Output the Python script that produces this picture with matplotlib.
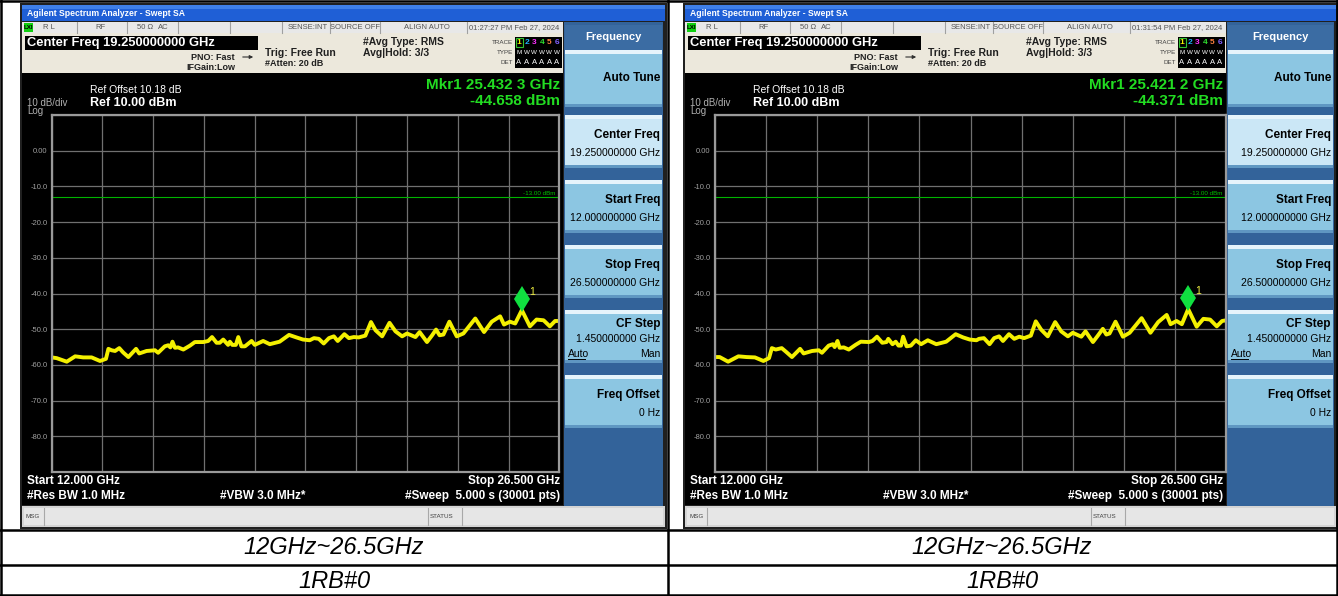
import matplotlib
matplotlib.use('Agg')
import matplotlib.pyplot as plt
import matplotlib.patches as patches
import matplotlib.transforms as mtransforms
import numpy as np

plt.rcParams['font.family'] = ['Liberation Sans Narrow', 'Liberation Sans', 'DejaVu Sans']

W, H = 1338, 596

# sweep settings
start_ghz = 12.0
stop_ghz = 26.5
ref_dbm = 10.0
bottom_dbm = -90.0
limit_dbm = -13.0
y_tick_values = [-90, -80, -70, -60, -50, -40, -30, -20, -10, 0, 10]
y_tick_labels = ['', '-80.0', '-70.0', '-60.0', '-50.0', '-40.0', '-30.0', '-20.0', '-10.0', '0.00', '']
captions = ['12GHz~26.5GHz', '1RB#0']

# left screen trace (GHz, dBm)
left_freq = [12.00, 12.14, 12.43, 12.67, 12.90, 13.14, 13.38, 13.55, 13.62, 13.71,
             13.81, 13.93, 14.04, 14.19, 14.41, 14.50, 14.71, 14.95, 15.04, 15.23,
             15.33, 15.39, 15.45, 15.52, 15.61, 15.76, 15.95, 16.09, 16.33, 16.47,
             16.58, 16.71, 16.80, 16.90, 17.04, 17.09, 17.16, 17.26, 17.33, 17.42,
             17.52, 17.71, 17.80, 18.04, 18.23, 18.51, 18.78, 18.99, 19.18, 19.37,
             19.49, 19.63, 19.77, 19.92, 20.06, 20.17, 20.36, 20.49, 20.63, 20.77,
             20.96, 21.12, 21.25, 21.44, 21.65, 21.82, 22.01, 22.15, 22.39, 22.51,
             22.72, 22.86, 22.98, 23.08, 23.19, 23.36, 23.57, 23.76, 24.10, 24.35,
             24.57, 24.81, 24.92, 25.09, 25.24, 25.43, 25.66, 25.85, 26.05, 26.23,
             26.38, 26.50]
left_dbm = [-57.9, -58.1, -59.1, -57.6, -57.9, -57.9, -58.9, -58.3, -55.5, -55.9,
            -56.1, -55.3, -56.5, -57.8, -55.5, -56.8, -56.1, -55.9, -56.6, -54.8,
            -54.5, -55.1, -53.5, -55.2, -55.1, -55.7, -54.6, -53.6, -53.6, -53.3,
            -52.2, -53.8, -53.8, -52.9, -54.4, -53.5, -54.4, -54.4, -52.2, -54.8,
            -54.8, -53.3, -54.4, -53.3, -54.2, -53.5, -51.6, -52.3, -52.9, -53.1,
            -52.5, -52.7, -54.0, -52.5, -52.0, -53.3, -51.4, -52.5, -52.2, -52.3,
            -51.8, -48.0, -50.3, -52.0, -48.2, -50.6, -52.0, -51.2, -52.2, -50.8,
            -53.6, -51.8, -50.1, -51.7, -51.5, -47.9, -52.0, -51.2, -47.0, -50.8,
            -47.9, -46.4, -48.7, -47.9, -48.4, -44.66, -49.2, -47.3, -47.5, -49.2,
            -47.7, -47.7]

# right screen trace
right_freq = [12.00, 12.14, 12.38, 12.67, 12.90, 13.14, 13.38, 13.54, 13.62, 13.73,
              13.90, 14.03, 14.19, 14.42, 14.52, 14.76, 14.95, 15.04, 15.23, 15.35,
              15.40, 15.48, 15.54, 15.66, 15.80, 15.99, 16.14, 16.37, 16.47, 16.60,
              16.75, 16.87, 16.92, 17.04, 17.13, 17.21, 17.28, 17.34, 17.44, 17.56,
              17.70, 17.85, 18.04, 18.28, 18.56, 18.83, 19.04, 19.23, 19.42,
              19.49, 19.63, 19.79, 19.92, 20.06, 20.17, 20.34, 20.49, 20.63, 20.77,
              20.96, 21.10, 21.25, 21.44, 21.65, 21.82, 22.01, 22.15, 22.39, 22.51,
              22.72, 22.86, 23.00, 23.10, 23.19, 23.36, 23.57, 23.76, 24.10, 24.35,
              24.57, 24.81, 24.92, 25.09, 25.24, 25.42, 25.66, 25.85, 26.04, 26.23,
              26.38, 26.50]
right_dbm = [-57.8, -57.8, -59.1, -57.6, -57.8, -57.9, -58.9, -58.1, -55.3, -55.7,
             -55.3, -56.4, -57.8, -55.5, -56.8, -56.1, -55.9, -56.6, -54.6, -54.2,
             -55.0, -53.3, -55.2, -55.1, -55.7, -54.4, -53.5, -53.6, -53.3, -52.1,
             -53.8, -53.6, -52.7, -54.2, -53.5, -54.6, -54.6, -52.1, -54.8, -54.6,
             -53.1, -54.2, -53.1, -54.2, -53.5, -51.4, -52.3, -52.9, -53.1,
             -52.7, -52.5, -54.2, -52.5, -52.0, -53.3, -51.4, -52.7, -52.1, -52.5,
             -51.8, -47.8, -50.1, -52.0, -48.0, -50.6, -52.0, -51.0, -52.1, -50.6,
             -53.6, -51.8, -49.9, -51.5, -51.2, -47.9, -52.1, -51.0, -46.9, -51.0,
             -48.0, -46.0, -48.6, -47.7, -48.6, -44.37, -49.3, -47.1, -47.3, -49.2,
             -47.7, -47.5]

left_marker = (25.4323, -44.658)
right_marker = (25.4212, -44.371)
left_texts = {'stamp': '01:27:27 PM Feb 27, 2024', 'mkr': 'Mkr1 25.432 3 GHz', 'mkr_db': '-44.658 dBm'}
right_texts = {'stamp': '01:31:54 PM Feb 27, 2024', 'mkr': 'Mkr1 25.421 2 GHz', 'mkr_db': '-44.371 dBm'}

softkeys = [('Center Freq', '19.250000000 GHz'), ('Start Freq', '12.000000000 GHz'),
            ('Stop Freq', '26.500000000 GHz'), ('CF Step', '1.450000000 GHz'),
            ('Freq Offset', '0 Hz')]

fig = plt.figure(figsize=(W / 100, H / 100), dpi=100)
cv = fig.add_axes([0, 0, 1, 1])
cv.set_xlim(0, W)
cv.set_ylim(H, 0)
cv.axis('off')


def box(x, y, w, h, fc, ec='none', lw=0, z=1):
    cv.add_patch(patches.Rectangle((x, y), w, h, facecolor=fc, edgecolor=ec, linewidth=lw, zorder=z))


def txt(x, y, s, size=7, color='black', weight='normal', ha='left', va='center', **kw):
    cv.text(x, y, s, fontsize=size, color=color, fontweight=weight, ha=ha, va=va, zorder=5, **kw)


def draw_screen(dx, R, freq, dbm, marker, t):
    L = 22 + dx
    kx0 = 564 + dx
    kx1 = R - 2
    # frame + title bar
    box(L - 2, 3, R - L + 4, 526, '#202020')
    box(L, 5, R - L, 16, '#1f5fd6')
    box(L, 5, R - L, 4, '#3f7fe8')
    txt(L + 5, 13.5, 'Agilent Spectrum Analyzer - Swept SA', 6.2, 'white', 'bold')
    # status row
    box(L, 22, kx0 - L - 1, 11, '#e8e8e8')
    box(L + 2, 23, 9, 9, '#10d010')
    txt(L + 6.5, 27.5, 'LXI', 4.5, 'black', 'bold', ha='center')
    cells = [(L + 21, 'R L', 'left'), (100 + dx, 'RF', 'center'), (137 + dx, '50 Ω', 'left'),
             (163 + dx, 'AC', 'center'), (328 + dx, 'SENSE:INT', 'right'),
             (355 + dx, 'SOURCE OFF', 'center'), (427 + dx, 'ALIGN AUTO', 'center'),
             (514 + dx, t['stamp'], 'center')]
    for cx, s, ha in cells:
        txt(cx, 27.5, s, 5.5, '#555555', ha=ha)
    for vx in [77, 127, 178, 230, 282, 330, 380, 467]:
        cv.plot([vx + dx, vx + dx], [22, 33], color='#a0a0a0', lw=0.8, zorder=3)
    # info area
    box(L, 33, kx0 - L - 1, 40, '#ece8dc')
    box(L + 3, 36, 233, 14, 'black')
    txt(L + 5, 43, 'Center Freq 19.250000000 GHz', 9.3, 'white', 'bold')
    txt(235 + dx, 57, 'PNO: Fast', 6.5, '#202020', 'bold', ha='right')
    txt(235 + dx, 67, 'IFGain:Low', 6.5, '#202020', 'bold', ha='right')
    cv.annotate('', xy=(256 + dx, 57), xytext=(240 + dx, 57),
                arrowprops=dict(arrowstyle='-|>', color='#303030', lw=0.8, mutation_scale=5), zorder=5)
    txt(265 + dx, 53, 'Trig: Free Run', 7.5, '#202020', 'bold')
    txt(265 + dx, 64, '#Atten: 20 dB', 6.5, '#202020', 'bold')
    txt(363 + dx, 42, '#Avg Type: RMS', 7.5, '#202020', 'bold')
    txt(363 + dx, 53, 'Avg|Hold: 3/3', 7.5, '#202020', 'bold')
    box(515 + dx, 37, 47, 31, 'black')
    for ly, lab in [(42, 'TRACE'), (52.5, 'TYPE'), (63, 'DET')]:
        txt(513 + dx, ly, lab, 4.5, '#404040', ha='right')
    dcols = ['#f0f000', '#20b0ff', '#ff30ff', '#30e030', '#ff8040', '#8060ff']
    for i, c in enumerate(dcols):
        xx = 519 + dx + i * 7.6
        txt(xx, 42, str(i + 1), 6, c, 'bold', ha='center')
        txt(xx, 52.5, 'M' if i == 0 else 'W', 4.5, 'white', ha='center')
        txt(xx, 63, 'A', 5.5, 'white', ha='center')
    cv.add_patch(patches.Rectangle((515.5 + dx, 37.5), 7, 9, facecolor='none', edgecolor='#30c030', lw=0.8, zorder=6))
    # display
    box(L, 73, kx0 - L - 1, 432, 'black')
    txt(90 + dx, 90, 'Ref Offset 10.18 dB', 7.5, 'white')
    txt(90 + dx, 103, 'Ref 10.00 dBm', 9, 'white', 'bold')
    txt(L + 5, 103, '10 dB/div', 7, '#b0b0b0')
    txt(L + 5, 111.5, 'Log', 7, '#b0b0b0')
    txt(560 + dx, 85, t['mkr'], 11, '#22dd22', 'bold', ha='right')
    txt(560 + dx, 101, t['mkr_db'], 11, '#22dd22', 'bold', ha='right')
    txt(L + 5, 481, 'Start 12.000 GHz', 8.5, 'white', 'bold')
    txt(L + 5, 496, '#Res BW 1.0 MHz', 8.5, 'white', 'bold')
    txt(220 + dx, 496, '#VBW 3.0 MHz*', 8.5, 'white', 'bold')
    txt(560 + dx, 481, 'Stop 26.500 GHz', 8.5, 'white', 'bold', ha='right')
    txt(560 + dx, 496, '#Sweep  5.000 s (30001 pts)', 8.5, 'white', 'bold', ha='right')
    # softkey panel
    box(kx0, 22, kx1 - kx0, 484, '#33639a')
    box(kx0 + 1, 25, kx1 - kx0 - 2, 25, '#3b6ca3')
    txt((kx0 + kx1) / 2, 37, 'Frequency', 8, 'white', 'bold', ha='center')
    tops = [50] + [115 + 65 * k for k in range(5)]
    heights = [57] + [53] * 5
    labels = [('Auto Tune', '')] + softkeys
    for i, ((lab, val), y0, hh) in enumerate(zip(labels, tops, heights)):
        fc = '#cbe7f6' if i == 1 else '#8cc6e2'
        box(kx0 + 1, y0, kx1 - kx0 - 2, hh, fc, z=2)
        box(kx0 + 1, y0, kx1 - kx0 - 2, 4, '#e6f4fb', z=2)
        box(kx0 + 1, y0 + hh - 3, kx1 - kx0 - 2, 3, '#5f97c2', z=2)
        if lab == 'CF Step':
            txt(kx1 - 3, y0 + 14, lab, 8.5, 'black', 'bold', ha='right')
            txt(kx1 - 3, y0 + 29, val, 7.5, 'black', ha='right')
        elif val:
            txt(kx1 - 3, y0 + 20, lab, 8.5, 'black', 'bold', ha='right')
            txt(kx1 - 3, y0 + 38, val, 7.5, 'black', ha='right')
        else:
            txt(kx1 - 3, y0 + 28, lab, 8.5, 'black', 'bold', ha='right')
    txt(kx0 + 4, 354, 'Auto', 7.5, 'black')
    cv.plot([kx0 + 4, kx0 + 21], [359, 359], color='black', lw=0.7, zorder=5)
    txt(kx1 - 3, 354, 'Man', 7.5, 'black', ha='right')
    # message bar
    box(L, 506, R - L, 21, '#d4d4d4')
    box(L + 2, 508, R - L - 4, 17, '#e6e6e6')
    txt(L + 4, 516.5, 'MSG', 4.5, '#404040')
    txt(430 + dx, 516.5, 'STATUS', 4.5, '#404040')
    for vx in [L + 22, 428 + dx, 462 + dx]:
        cv.plot([vx, vx], [508, 525], color='#a8a8a8', lw=0.8, zorder=5)

    # spectrum axes
    px0, px1, py0, py1 = 51.7 + dx, 559.3 + dx + (R - 665 - dx) * 0.5, 115, 472
    ax = fig.add_axes([px0 / W, 1 - py1 / H, (px1 - px0) / W, (py1 - py0) / H])
    ax.set_facecolor('black')
    ax.set_xlim(start_ghz, stop_ghz)
    ax.set_ylim(bottom_dbm, ref_dbm)
    ax.set_xticks(np.linspace(start_ghz, stop_ghz, 11))
    ax.set_xticklabels([])
    ax.set_yticks(y_tick_values)
    ax.set_yticklabels(y_tick_labels)
    ax.tick_params(length=0, labelsize=5.5, labelcolor='#a0a0a0', pad=3)
    ax.grid(color='#707070', lw=0.9)
    for sp in ax.spines.values():
        sp.set_color('#9a9a9a')
        sp.set_linewidth(1.6)
    ax.axhline(limit_dbm, color='#00b400', lw=0.8)
    ax.text(stop_ghz - 0.1, limit_dbm + 0.4, '-13.00 dBm', color='#00c000', fontsize=4.5,
            ha='right', va='bottom')
    ax.plot(freq, dbm, color='#f4f000', lw=2.8, solid_joinstyle='round')
    ax.plot([marker[0]], [marker[1]], marker='d', markersize=13, color='#10e040',
            markeredgewidth=0, transform=mtransforms.offset_copy(ax.transData, fig=fig, x=0, y=11, units='dots'))
    ax.text(marker[0], marker[1], '1', color='#f0f040', fontsize=7.5,
            transform=mtransforms.offset_copy(ax.transData, fig=fig, x=7, y=15, units='dots'))


draw_screen(0, 665, left_freq, left_dbm, left_marker, left_texts)
draw_screen(663, 1336, right_freq, right_dbm, right_marker, right_texts)

# table lines
for x in [1, 668, 1337]:
    cv.plot([x, x], [0, H], color='black', lw=1.8, zorder=8)
for y in [1, 530, 565, 595]:
    cv.plot([0, W], [y, y], color='black', lw=1.8, zorder=8)
for cx in [334, 1002]:
    txt(cx, 548, captions[0], 17, 'black', ha='center', style='italic', family='Liberation Sans')
    txt(cx, 581, captions[1], 17, 'black', ha='center', style='italic', family='Liberation Sans')

fig.savefig('out.png', dpi=100)
